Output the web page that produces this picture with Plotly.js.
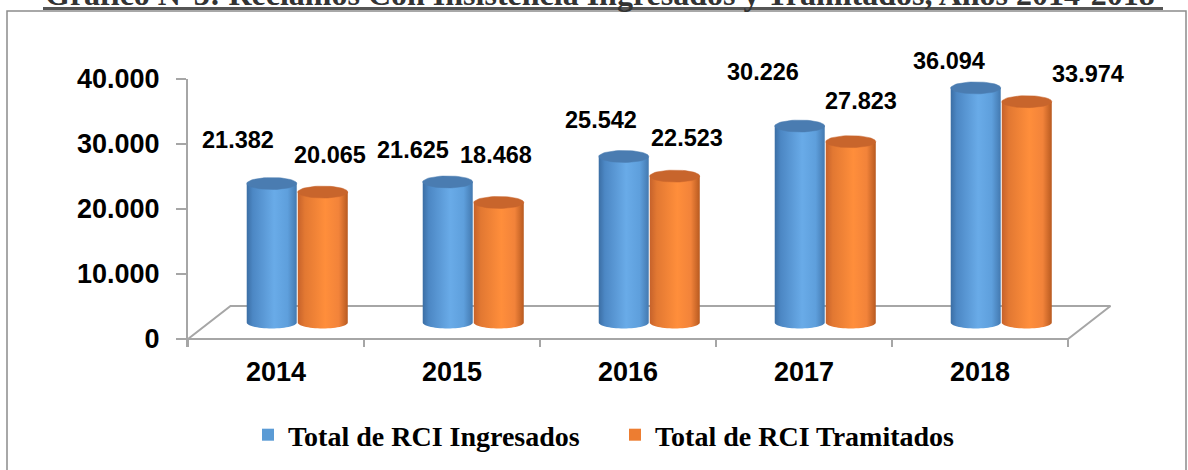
<!DOCTYPE html>
<html>
<head>
<meta charset="utf-8">
<script src="https://cdn.plot.ly/plotly-3.0.1.min.js"></script>
<style>
  html, body { margin: 0; padding: 0; background: #ffffff; }
  #chart { width: 1188px; height: 470px; }
</style>
</head>
<body>
<div id="chart"></div>
<script>
// ---- data ----
const years = ['2014', '2015', '2016', '2017', '2018'];
const ingresados = [21382, 21625, 25542, 30226, 36094];
const tramitados = [20065, 18468, 22523, 27823, 33974];
const yTickVals = [0, 10000, 20000, 30000, 40000];
const seriesNames = ['Total de RCI Ingresados', 'Total de RCI Tramitados'];
const titleText = 'Gráfico N°3: Reclamos Con Insistencia Ingresados y Tramitados, Años 2014-2018';

// label offsets (pixels) relative to each cylinder top
const labelShiftIng = [[-34, 44], [-35, 32], [-23, 36], [-37, 54], [-27, 27]];
const labelShiftTra = [[7, 37], [-3, 47], [12, 38], [10, 41], [61, 28]];

// ---- geometry of the pseudo-3D projection ----
const W = 1188, H = 470;
const M = { l: 188, r: 48, t: 79, b: 123 };
const plotW = W - M.l - M.r, plotH = H - M.t - M.b;
const pxPerCat = 176;
const XMAX = plotW / pxPerCat;
const YMIN = -1231, YMAX = 40000;
const pxPerUnit = plotH / (YMAX - YMIN);
const DX = 42.5 / pxPerCat;          // depth offset (x)
const DY = 33 / pxPerUnit;           // depth offset (y)
const RX = 25 / pxPerCat;            // cylinder radius in x
const RY = 6 / pxPerUnit;            // ellipse half-height in y
const OFF = 0.145;                   // pair offset from center

const fmt = v => String(v).replace(/\B(?=(\d{3})+(?!\d))/g, '.');

const blueScale = [[0, '#3b6ea4'], [0.12, '#4c87c4'], [0.55, '#69abe8'], [0.82, '#5e9fdc'], [1, '#4379b0']];
const orangeScale = [[0, '#c6622b'], [0.14, '#e27832'], [0.55, '#ff8e3b'], [0.82, '#f2833a'], [1, '#b85a20']];
const blueCap = '#4a7cb1';
const orangeCap = '#c8652c';

function cylinder(xc, value, scale, capColor) {
  const yb = DY / 2, yt = value + DY / 2;
  const xl = xc - RX, xr = xc + RX;
  const bx = [xl, xl, xr, xr], by = [yb, yt, yt, yb];
  const N = 30;
  for (let k = 1; k < N; k++) {
    const th = Math.PI * k / N;
    bx.push(xc + RX * Math.cos(th));
    by.push(yb - RY * Math.sin(th));
  }
  bx.push(xl); by.push(yb);
  const body = {
    type: 'scatter', x: bx, y: by, mode: 'none', fill: 'toself',
    fillgradient: { type: 'horizontal', colorscale: scale },
    hoverinfo: 'skip', showlegend: false
  };
  const cx = [], cy = [];
  for (let k = 0; k <= 60; k++) {
    const th = 2 * Math.PI * k / 60;
    cx.push(xc + RX * Math.cos(th));
    cy.push(yt + RY * Math.sin(th));
  }
  const cap = {
    type: 'scatter', x: cx, y: cy, mode: 'lines', fill: 'toself',
    fillcolor: capColor, line: { color: capColor, width: 0.5 },
    hoverinfo: 'skip', showlegend: false
  };
  return [body, cap];
}

const traces = [];
// floor outline
const n = years.length;
traces.push({
  type: 'scatter', mode: 'lines',
  x: [0, n, n + DX, DX, 0],
  y: [0, 0, DY, DY, 0],
  line: { color: '#a6a6a6', width: 2 },
  hoverinfo: 'skip', showlegend: false
});

const annotations = [];
years.forEach((yr, i) => {
  const c = i + 0.5 + DX / 2;
  traces.push(...cylinder(c - OFF, ingresados[i], blueScale, blueCap));
  traces.push(...cylinder(c + OFF, tramitados[i], orangeScale, orangeCap));
  annotations.push({
    x: c - OFF, y: ingresados[i] + DY / 2, xref: 'x', yref: 'y',
    text: '<b>' + fmt(ingresados[i]) + '</b>', showarrow: false,
    xshift: labelShiftIng[i][0], yshift: labelShiftIng[i][1],
    font: { family: 'Liberation Sans, Arial, sans-serif', size: 23.5, color: '#000' }
  });
  annotations.push({
    x: c + OFF, y: tramitados[i] + DY / 2, xref: 'x', yref: 'y',
    text: '<b>' + fmt(tramitados[i]) + '</b>', showarrow: false,
    xshift: labelShiftTra[i][0], yshift: labelShiftTra[i][1],
    font: { family: 'Liberation Sans, Arial, sans-serif', size: 23.5, color: '#000' }
  });
});

// legend entries
traces.push({ type: 'bar', x: [null], y: [null], name: seriesNames[0], marker: { color: '#5B9BD5' }, hoverinfo: 'skip' });
traces.push({ type: 'bar', x: [null], y: [null], name: seriesNames[1], marker: { color: '#ED7D31' }, hoverinfo: 'skip' });

// title (partly cut at top in the original)
const pxToPaperY = p => (H - M.b - p) / plotH;
const pxToPaperX = p => (p - M.l) / plotW;
annotations.push({
  xref: 'paper', yref: 'paper', x: pxToPaperX(43), y: pxToPaperY(-6),
  xanchor: 'left', yanchor: 'middle', showarrow: false,
  text: '<b>' + titleText + '</b>',
  font: { family: 'Liberation Serif, Times New Roman, serif', size: 32, color: '#333333' }
});

const layout = {
  width: W, height: H,
  margin: M,
  paper_bgcolor: '#ffffff', plot_bgcolor: 'rgba(0,0,0,0)',
  separators: ',.',
  showlegend: true,
  legend: {
    orientation: 'h', xref: 'container', yref: 'container',
    x: 248 / W, xanchor: 'left', y: 1 - 435 / H, yanchor: 'middle',
    entrywidth: 322, entrywidthmode: 'pixels',
    font: { family: 'Liberation Serif, Times New Roman, serif', size: 28, color: '#000', weight: 'bold' },
    bgcolor: 'rgba(0,0,0,0)'
  },
  xaxis: {
    range: [0, XMAX], showgrid: false, zeroline: false, showline: false,
    tickmode: 'array', tickvals: years.map((_, i) => i + 0.5), ticktext: years,
    ticks: '', ticklabelstandoff: 6,
    tickfont: { family: 'Liberation Sans, Arial, sans-serif', size: 27, color: '#000', weight: 'bold' },
    minor: { tickmode: 'array', tickvals: years.map((_, i) => i).concat([n]), ticks: 'inside', ticklen: 8, tickwidth: 2, tickcolor: '#a6a6a6' },
    fixedrange: true
  },
  yaxis: {
    range: [YMIN, YMAX], showgrid: false, zeroline: false,
    showline: true, linecolor: '#a6a6a6', linewidth: 2,
    ticks: 'outside', ticklen: 10, tickwidth: 2, tickcolor: '#a6a6a6',
    tickmode: 'array', tickvals: yTickVals, ticktext: yTickVals.map(fmt),
    ticklabelstandoff: 11,
    tickfont: { family: 'Liberation Sans, Arial, sans-serif', size: 27, color: '#000', weight: 'bold' },
    fixedrange: true
  },
  annotations: annotations,
  shapes: [
    { type: 'rect', xref: 'paper', yref: 'paper', x0: pxToPaperX(7), x1: pxToPaperX(1186), y0: pxToPaperY(11), y1: pxToPaperY(480),
      line: { color: '#8c8c8c', width: 1.5 }, fillcolor: 'rgba(0,0,0,0)' },
    { type: 'line', xref: 'paper', yref: 'paper', x0: pxToPaperX(43), x1: pxToPaperX(1163), y0: pxToPaperY(8.5), y1: pxToPaperY(8.5),
      line: { color: '#555555', width: 3 } }
  ]
};

Plotly.newPlot('chart', traces, layout, { staticPlot: true, displayModeBar: false });
</script>
</body>
</html>
